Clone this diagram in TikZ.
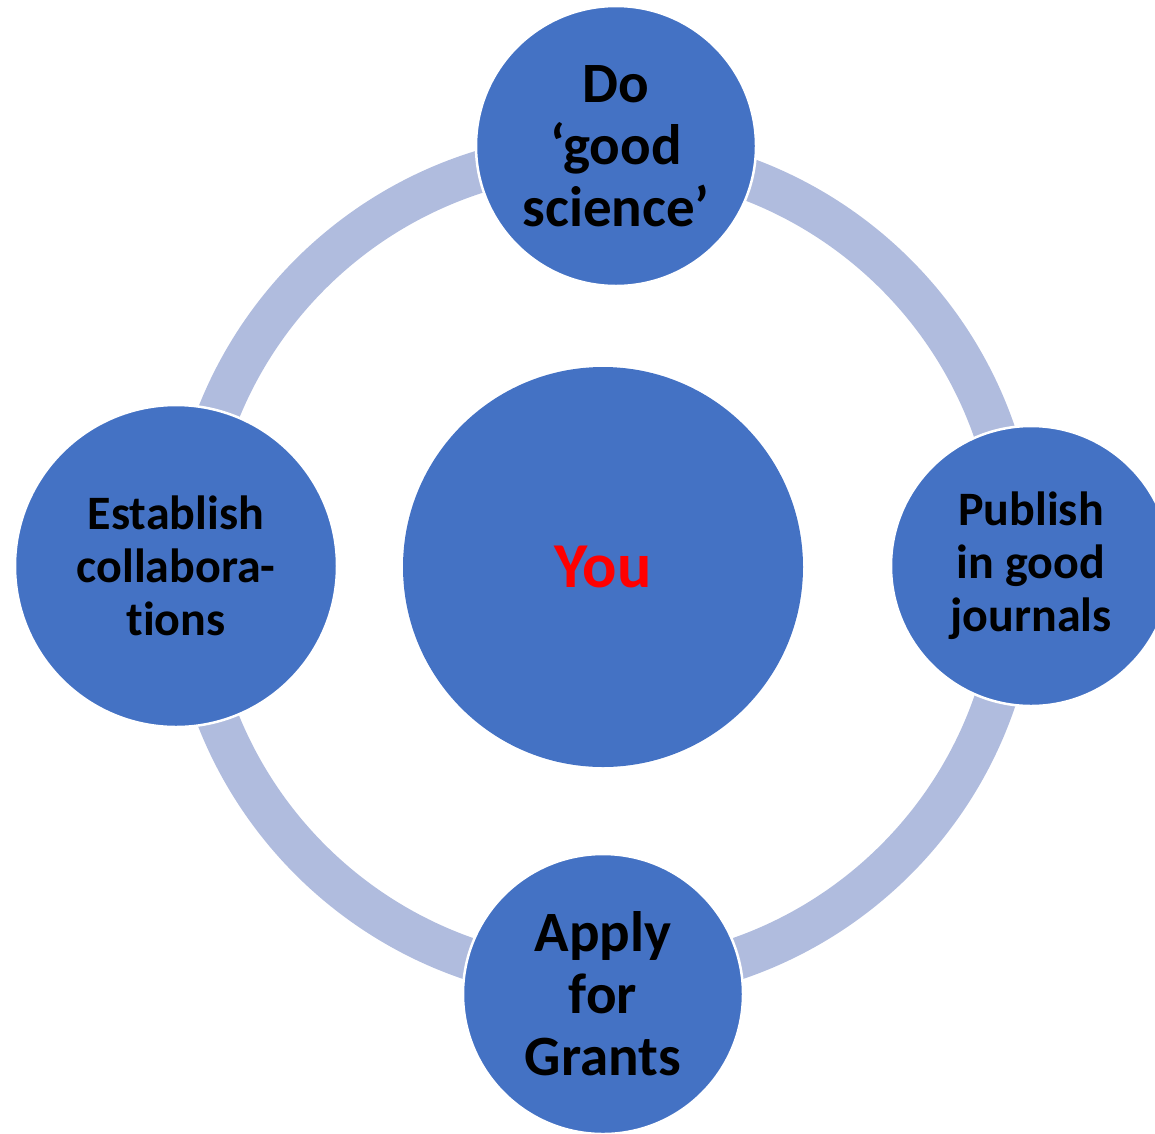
\documentclass[tikz,border=0pt]{standalone}
\usepackage{fontspec}
\setmainfont[Ligatures=NoCommon]{Carlito}
\definecolor{cyclefill}{RGB}{68,114,196}
\definecolor{cyclering}{RGB}{176,188,222}

\begin{document}
\begin{tikzpicture}[x=1pt,y=-1pt,
		stage/.style={circle,fill=cyclefill,draw=white,line width=2.5pt,minimum size=280pt,inner sep=0pt,align=center,font=\bfseries\fontsize{57}{62}\selectfont},
		smalltext/.style={font=\bfseries\fontsize{48}{53}\selectfont}]
			\useasboundingbox (0,0) rectangle (1155,1133);
			% ring behind the stages
			\coordinate (hub) at (603,567);
			\draw[cyclering,line width=42pt] (hub) circle[radius=414pt];
			\node[stage] (science) at (616,146) {Do\\‘good\\science’};
			\node[stage,smalltext] (publish) at (1031,566) {Publish\\in good\\journals};
			\node[stage] (grants) at (603,994) {Apply\\for\\Grants};
			\node[stage,smalltext,minimum size=322pt] (collab) at (176,566) {Establish\\collabora-\\tions};
			\node[stage,draw=none,minimum size=400pt,text=red,font=\bfseries\fontsize{64}{76}\selectfont] (you) at (hub) {You};
		\end{tikzpicture}
\end{document}
